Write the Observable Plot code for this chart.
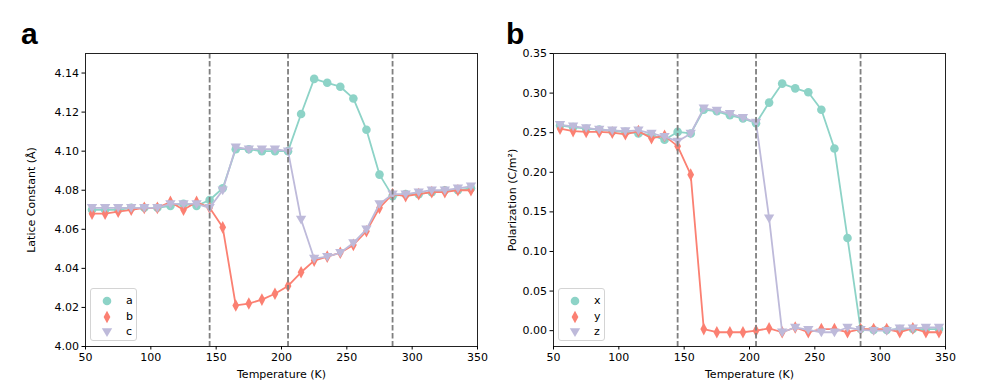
<!DOCTYPE html>
<html><head><meta charset="utf-8">
<script src="https://cdn.jsdelivr.net/npm/d3@7"></script>
<script src="https://cdn.jsdelivr.net/npm/@observablehq/plot@0.6"></script>
<style>
body{margin:0;background:#fff;}
#wrap{position:relative;width:997px;height:389px;font-family:"DejaVu Sans",sans-serif;color:#000;overflow:hidden;}
.panel{position:absolute;top:0;}
.letter{position:absolute;font-family:"Liberation Sans",Arial,sans-serif;font-weight:bold;font-size:30px;line-height:1;}
.legend{position:absolute;border:1px solid #d4d4d4;border-radius:3px;background:rgba(255,255,255,0.85);box-sizing:border-box;}
.legend .row{position:absolute;left:0;height:16px;width:100%;font-size:11px;}
.legend svg{position:absolute;left:6px;top:0;}
.legend span{position:absolute;left:35px;top:1px;}
</style>
</head><body>
<div id="wrap"></div>
<script>
// ---- data ----
const temps = [55,65,75,85,95,105,115,125,135,145,155,165,175,185,195,205,215,225,235,245,255,265,275,285,295,305,315,325,335,345];
const phaseT = [145,205,285];

const latA = [4.070,4.070,4.070,4.071,4.071,4.071,4.072,4.073,4.072,4.075,4.081,4.101,4.101,4.100,4.100,4.100,4.119,4.137,4.135,4.133,4.127,4.111,4.088,4.077,4.078,4.078,4.079,4.080,4.080,4.081];
const latB = [4.068,4.068,4.069,4.070,4.071,4.071,4.074,4.070,4.074,4.071,4.061,4.021,4.022,4.024,4.027,4.031,4.038,4.044,4.046,4.048,4.052,4.059,4.071,4.078,4.077,4.078,4.079,4.079,4.080,4.080];
const latC = [4.071,4.071,4.071,4.071,4.071,4.071,4.073,4.073,4.073,4.071,4.080,4.102,4.101,4.101,4.101,4.100,4.065,4.045,4.046,4.048,4.053,4.060,4.073,4.078,4.078,4.079,4.080,4.080,4.081,4.082];

const polX = [0.259,0.257,0.255,0.254,0.252,0.251,0.249,0.247,0.241,0.251,0.249,0.279,0.277,0.272,0.268,0.262,0.288,0.312,0.306,0.301,0.279,0.230,0.117,0.002,0.001,0.001,0.002,0.002,0.002,0.002];
const polY = [0.255,0.252,0.251,0.251,0.250,0.248,0.252,0.243,0.246,0.233,0.197,0.002,-0.002,-0.002,-0.002,0.000,0.003,-0.002,0.004,-0.002,0.002,0.002,-0.002,0.002,0.002,0.002,-0.002,0.003,-0.002,-0.002];
const polZ = [0.260,0.258,0.256,0.254,0.253,0.252,0.253,0.249,0.245,0.239,0.249,0.281,0.278,0.274,0.269,0.263,0.142,-0.002,0.004,0.001,-0.002,-0.002,0.004,0.001,0.000,0.000,0.003,0.003,0.004,0.004];

const xTicks = [50,100,150,200,250,300,350];
const latTicks = [4.00,4.02,4.04,4.06,4.08,4.10,4.12,4.14];
const polTicks = [0.00,0.05,0.10,0.15,0.20,0.25,0.30,0.35];
const latNames = ["a","b","c"];
const polNames = ["x","y","z"];
const colors = ["#8dd3c7","#fb8072","#bebada"];

// ---- symbols ----
const circleSym = d3.symbolCircle;
const thinDiamond = {draw(ctx, size){const r=Math.sqrt(size/Math.PI);ctx.moveTo(0,-1.35*r);ctx.lineTo(0.72*r,0);ctx.lineTo(0,1.35*r);ctx.lineTo(-0.72*r,0);ctx.closePath();}};
const triDown = {draw(ctx, size){const r=Math.sqrt(size/Math.PI);ctx.moveTo(-1.1*r,-0.8*r);ctx.lineTo(1.1*r,-0.8*r);ctx.lineTo(0,1.05*r);ctx.closePath();}};
const symbols = [circleSym, thinDiamond, triDown];
const radii = [4.3, 4.7, 4.7];

const wrap = document.getElementById("wrap");

function makePanel({values, names, yDomain, yTicks, yLabel, left, width, mLeft, mRight, yLabelOffset}) {
  const marks = [];
  values.forEach((vals, k) => {
    const data = temps.map((t, i) => ({t, v: vals[i]}));
    marks.push(Plot.line(data, {x: "t", y: "v", stroke: colors[k], strokeWidth: 1.8}));
    marks.push(Plot.dot(data, {x: "t", y: "v", fill: colors[k], stroke: "none", symbol: symbols[k], r: radii[k]}));
  });
  marks.push(Plot.ruleX(phaseT, {stroke: "#7f7f7f", strokeWidth: 1.8, strokeDasharray: "5.5,2.5"}));
  marks.push(Plot.frame({stroke: "#222", strokeWidth: 1}));
  marks.push(Plot.axisX({ticks: xTicks, tickSize: 3.5, tickPadding: 3, tickFormat: d3.format("d"),
    label: "Temperature (K)", labelAnchor: "center", labelArrow: "none", labelOffset: 31}));
  marks.push(Plot.axisY({ticks: yTicks, tickSize: 3.5, tickPadding: 3, tickFormat: d3.format(".2f"),
    label: yLabel, labelAnchor: "center", labelArrow: "none", labelOffset: yLabelOffset}));
  const svg = Plot.plot({
    width, height: 389,
    marginLeft: mLeft, marginRight: mRight, marginTop: 53, marginBottom: 43,
    x: {domain: [50, 350]},
    y: {domain: yDomain},
    style: {fontFamily: "DejaVu Sans, sans-serif", fontSize: "11px", color: "#000", background: "transparent", overflow: "visible"},
    marks
  });
  svg.classList.add("panel");
  svg.style.left = left + "px";
  wrap.appendChild(svg);
}

makePanel({values: [latA, latB, latC], names: latNames, yDomain: [4.00, 4.15], yTicks: latTicks,
  yLabel: "Latice Constant (Å)", left: 0, width: 498, mLeft: 85, mRight: 21, yLabelOffset: 58});
makePanel({values: [polX, polY, polZ], names: polNames, yDomain: [-0.02, 0.35], yTicks: polTicks,
  yLabel: "Polarization (C/m²)", left: 498, width: 499, mLeft: 55, mRight: 52, yLabelOffset: 45});

// ---- letters ----
function letter(txt, x, y){const d=document.createElement("div");d.className="letter";d.textContent=txt;d.style.left=x+"px";d.style.top=y+"px";wrap.appendChild(d);}
letter("a", 21, 19);
letter("b", 506, 19);

// ---- legends ----
function legend(names, x, y){
  const box = document.createElement("div");
  box.className = "legend";
  box.style.left = x + "px"; box.style.top = y + "px";
  box.style.width = "47px"; box.style.height = "53px";
  names.forEach((n, k) => {
    const row = document.createElement("div");
    row.className = "row";
    row.style.top = (4 + k * 15.7) + "px";
    const s = d3.create("svg").attr("width", 20).attr("height", 16);
    const size = Math.PI * radii[k] * radii[k];
    s.append("path").attr("transform", "translate(10,8)").attr("fill", colors[k])
      .attr("d", d3.symbol(symbols[k], size)());
    row.appendChild(s.node());
    const sp = document.createElement("span"); sp.textContent = n; row.appendChild(sp);
    box.appendChild(row);
  });
  wrap.appendChild(box);
}
legend(latNames, 90, 288);
legend(polNames, 558, 288);
</script>
</body></html>
